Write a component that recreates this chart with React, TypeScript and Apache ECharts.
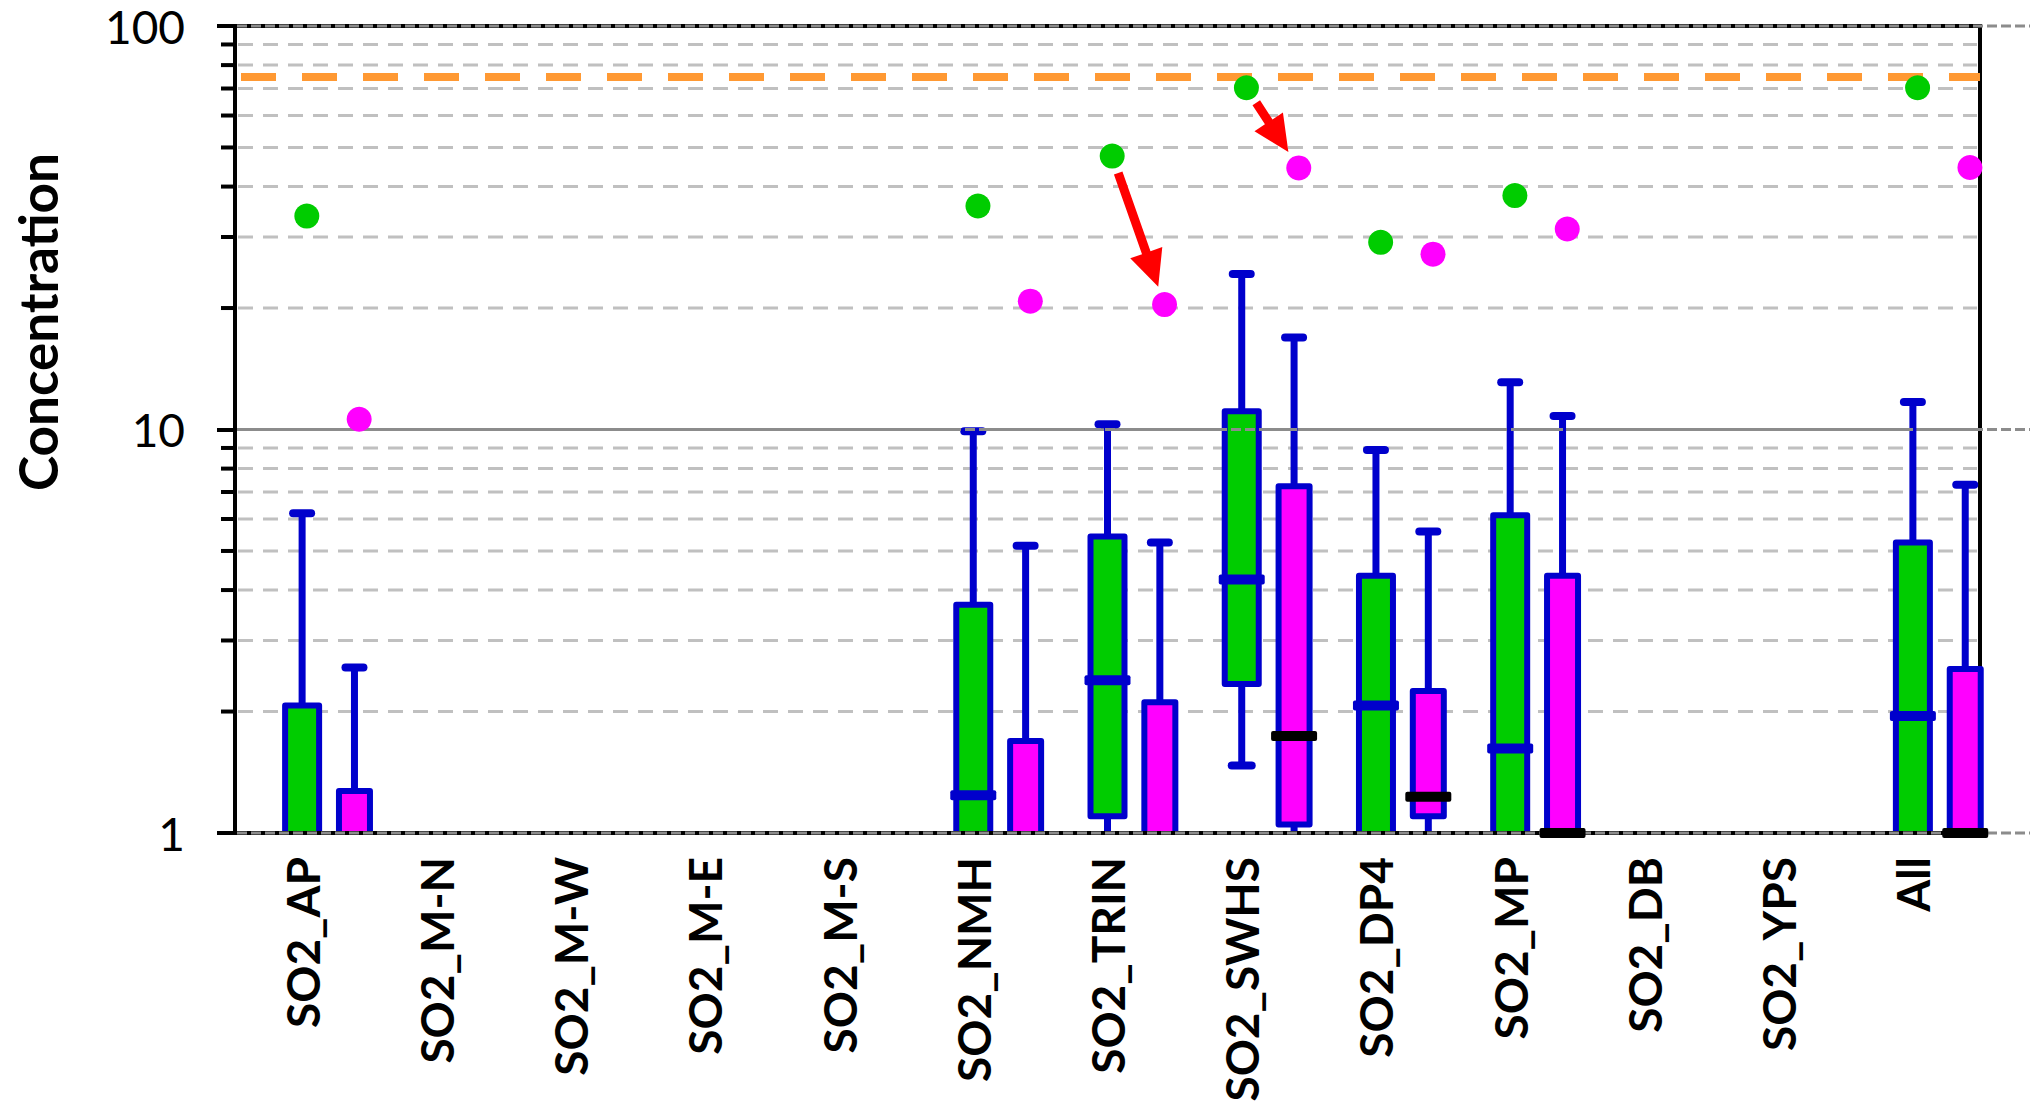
import React, { useEffect, useRef } from 'react';
import * as echarts from 'echarts';

// ---------------- data ----------------
const categories = ['SO2_AP', 'SO2_M-N', 'SO2_M-W', 'SO2_M-E', 'SO2_M-S', 'SO2_NMH', 'SO2_TRIN', 'SO2_SWHS', 'SO2_DP4', 'SO2_MP', 'SO2_DB', 'SO2_YPS', 'All'];

// green boxes
const greenWhiskerLow = [0.8, null, null, null, null, 0.8, 0.8, 1.47, 0.8, 0.8, null, null, 0.8];
const greenQ1 = [0.9, null, null, null, null, 0.9, 1.1, 2.34, 0.9, 0.9, null, null, 0.9];
const greenMedian = [0.9, null, null, null, null, 1.24, 2.39, 4.25, 2.07, 1.62, null, null, 1.95];
const greenQ3 = [2.07, null, null, null, null, 3.68, 5.43, 11.1, 4.34, 6.13, null, null, 5.25];
const greenWhiskerHigh = [6.2, null, null, null, null, 9.9, 10.3, 24.3, 8.9, 13.1, null, null, 11.7];
const greenMax = [33.8, null, null, null, null, 35.8, 47.6, 70.3, 29.1, 38.0, null, null, 70.3];

// magenta boxes
const magentaWhiskerLow = [0.8, null, null, null, null, 0.8, 0.8, 0.8, 0.8, 0.8, null, null, 0.8];
const magentaQ1 = [0.9, null, null, null, null, 0.9, 0.9, 1.05, 1.1, 0.95, null, null, 0.95];
const magentaMedian = [0.9, null, null, null, null, 0.9, 0.9, 1.74, 1.23, 1.0, null, null, 1.0];
const magentaQ3 = [1.27, null, null, null, null, 1.69, 2.11, 7.23, 2.25, 4.34, null, null, 2.55];
const magentaWhiskerHigh = [2.57, null, null, null, null, 5.15, 5.25, 16.9, 5.59, 10.8, null, null, 7.3];
const magentaMax = [10.6, null, null, null, null, 20.8, 20.4, 44.5, 27.2, 31.4, null, null, 44.6];

const yTicksMajor = [1, 10, 100];
const yTicksMinor = [2, 3, 4, 5, 6, 7, 8, 9, 20, 30, 40, 50, 60, 70, 80, 90];
const standardLevel = 75;
const arrowCategories = ['SO2_TRIN', 'SO2_SWHS'];

// ---------------- style ----------------
const Y_MIN = 1;
const Y_MAX = 100;
const BLUE = '#0000CC';
const GREEN = '#00CC00';
const MAGENTA = '#FF00FF';
const MAG_OFFSET = 0.39; // fraction of category band
const DOT_SHIFT = 0.035;
const FONT = 'Lato, "Open Sans", sans-serif';

function bandOf(params: any) {
  return params.coordSys.width / categories.length;
}

function boxData(wl: any[], q1: any[], med: any[], q3: any[], wh: any[]) {
  const out: any[] = [];
  categories.forEach((_, i) => {
    if (q3[i] != null) out.push([i, wl[i], q1[i], med[i], q3[i], wh[i]]);
  });
  return out;
}

function makeBoxRender(offsetFrac: number, fill: string, boxW: number) {
  return (params: any, api: any) => {
    const idx = api.value(0);
    const wl = api.value(1);
    const q1 = api.value(2);
    const q3 = api.value(4);
    const wh = api.value(5);
    const band = bandOf(params);
    const cx = api.coord([idx, Y_MIN])[0] + offsetFrac * band;
    const y = (v: number) => api.coord([idx, Math.max(v, Y_MIN)])[1];
    const half = boxW / 2;
    const yq1 = y(q1);
    const yq3 = y(q3);
    const ywh = y(wh);
    const ywl = y(wl);
    const children: any[] = [];
    children.push({ type: 'line', shape: { x1: cx, y1: yq3, x2: cx, y2: ywh }, style: { stroke: BLUE, lineWidth: 7 } });
    children.push({ type: 'line', shape: { x1: cx - 9, y1: ywh, x2: cx + 9, y2: ywh }, style: { stroke: BLUE, lineWidth: 8, lineCap: 'round' } });
    if (wl < q1 && q1 > Y_MIN) {
      children.push({ type: 'line', shape: { x1: cx, y1: yq1, x2: cx, y2: ywl }, style: { stroke: BLUE, lineWidth: 7 } });
      if (wl >= Y_MIN) {
        children.push({ type: 'line', shape: { x1: cx - 10, y1: ywl, x2: cx + 10, y2: ywl }, style: { stroke: BLUE, lineWidth: 8, lineCap: 'round' } });
      }
    }
    children.push({ type: 'rect', shape: { x: cx - half, y: yq3, width: boxW, height: yq1 - yq3 }, style: { fill } });
    if (q1 < Y_MIN) {
      children.push({
        type: 'polyline',
        shape: { points: [[cx - half, yq1], [cx - half, yq3], [cx + half, yq3], [cx + half, yq1]] },
        style: { stroke: BLUE, lineWidth: 6, fill: 'none', lineJoin: 'round' },
      });
    } else {
      children.push({
        type: 'rect',
        shape: { x: cx - half, y: yq3, width: boxW, height: yq1 - yq3 },
        style: { stroke: BLUE, lineWidth: 6, fill: 'none', lineJoin: 'round' },
      });
    }
    return { type: 'group', children };
  };
}

function makeMedianRender(offsetFrac: number, color: string) {
  return (params: any, api: any) => {
    const idx = api.value(0);
    const m = api.value(3);
    if (!(m >= Y_MIN)) return null;
    const band = bandOf(params);
    const p = api.coord([idx, m]);
    const cx = p[0] + offsetFrac * band;
    return { type: 'rect', shape: { x: cx - 23, y: p[1] - 5, width: 46, height: 10, r: 2 }, style: { fill: color } };
  };
}

function makeDotRender(offsetFrac: number, color: string) {
  return (params: any, api: any) => {
    const idx = api.value(0);
    const v = api.value(1);
    const band = bandOf(params);
    const p = api.coord([idx, v]);
    return { type: 'circle', shape: { cx: p[0] + offsetFrac * band, cy: p[1], r: 12.5 }, style: { fill: color } };
  };
}

const arrowRender = (params: any, api: any) => {
  const idx = api.value(0);
  const from = api.value(1);
  const to = api.value(2);
  const band = bandOf(params);
  const a = api.coord([idx, from]);
  const b = api.coord([idx, to]);
  const p0 = [a[0] + DOT_SHIFT * band, a[1]];
  const p1 = [b[0] + (MAG_OFFSET + DOT_SHIFT) * band, b[1]];
  const dx = p1[0] - p0[0];
  const dy = p1[1] - p0[1];
  const len = Math.hypot(dx, dy);
  const ux = dx / len;
  const uy = dy / len;
  const px = -uy;
  const py = ux;
  const tail = [p0[0] + ux * 18, p0[1] + uy * 18];
  const tip = [p1[0] - ux * 19, p1[1] - uy * 19];
  const hb = [tip[0] - ux * 36, tip[1] - uy * 36];
  const sw = 4.5;
  const hw = 17;
  const pts = [
    [tail[0] + px * sw, tail[1] + py * sw],
    [hb[0] + px * sw, hb[1] + py * sw],
    [hb[0] + px * hw, hb[1] + py * hw],
    tip,
    [hb[0] - px * hw, hb[1] - py * hw],
    [hb[0] - px * sw, hb[1] - py * sw],
    [tail[0] - px * sw, tail[1] - py * sw],
  ];
  return { type: 'polygon', shape: { points: pts }, style: { fill: '#FF0000' } };
};

export default function App() {
  const ref = useRef<HTMLDivElement>(null);
  useEffect(() => {
    if (!ref.current) return;
    const chart = echarts.init(ref.current, undefined, { renderer: 'svg' });

    const greenBoxes = boxData(greenWhiskerLow, greenQ1, greenMedian, greenQ3, greenWhiskerHigh);
    const magentaBoxes = boxData(magentaWhiskerLow, magentaQ1, magentaMedian, magentaQ3, magentaWhiskerHigh);
    const greenDots = categories.map((_, i) => [i, greenMax[i]]).filter((d) => d[1] != null);
    const magentaDots = categories.map((_, i) => [i, magentaMax[i]]).filter((d) => d[1] != null);
    const arrows = arrowCategories.map((c) => {
      const i = categories.indexOf(c);
      return [i, greenMax[i], magentaMax[i]];
    });

    const option: any = {
      animation: false,
      backgroundColor: '#ffffff',
      grid: {
        left: 235,
        right: 50,
        top: 26,
        bottom: 268,
        show: true,
        borderColor: '#000000',
        borderWidth: 4,
        backgroundColor: 'transparent',
        containLabel: false,
        outerBoundsMode: 'none',
      },
      xAxis: {
        type: 'category',
        data: categories,
        z: 4,
        boundaryGap: true,
        axisLine: { show: true, lineStyle: { color: '#000000', width: 4 } },
        axisTick: { show: false },
        splitLine: { show: false },
        axisLabel: {
          interval: 0,
          rotate: 90,
          margin: 24,
          color: '#000000',
          fontFamily: FONT,
          fontWeight: 'bold',
          fontSize: 46,
        },
      },
      yAxis: {
        type: 'log',
        logBase: 10,
        min: Y_MIN,
        max: Y_MAX,
        axisLine: { show: true, lineStyle: { color: '#000000', width: 4 } },
        axisTick: { show: true, inside: false, length: 18, lineStyle: { color: '#000000', width: 4 } },
        axisLabel: {
          margin: 50,
          color: '#000000',
          fontFamily: FONT,
          fontSize: 46,
          formatter: (v: number) => String(v),
        },
        splitLine: {
          show: true,
          showMinLine: false,
          showMaxLine: false,
          lineStyle: { color: '#8C8C8C', width: 3, type: 'solid' },
        },
        minorTick: { show: false },
        minorSplitLine: { show: false },
      },
      graphic: [
        {
          type: 'text',
          x: 37,
          y: 322,
          rotation: Math.PI / 2,
          style: {
            text: 'Concentration',
            font: 'bold 53px Lato, "Open Sans", sans-serif',
            fill: '#000000',
            align: 'center',
            verticalAlign: 'middle',
          },
        },
      ],
      series: [
        {
          name: 'minorGrid',
          type: 'custom',
          z: 1,
          silent: true,
          data: yTicksMinor.map((v) => [0, v]),
          renderItem: (params: any, api: any) => {
            const y = api.coord([0, api.value(1)])[1];
            const cs = params.coordSys;
            return {
              type: 'group',
              children: [
                { type: 'line', shape: { x1: cs.x + 3, y1: y, x2: cs.x + cs.width - 3, y2: y }, style: { stroke: '#C0C0C0', lineWidth: 3, lineDash: [15, 10] } },
                { type: 'line', shape: { x1: cs.x - 14, y1: y, x2: cs.x, y2: y }, style: { stroke: '#000000', lineWidth: 4 } },
              ],
            };
          },
          markLine: {
            silent: true,
            z: 2,
            symbol: ['none', 'none'],
            label: { show: false },
            lineStyle: { color: '#FF9933', width: 8, type: [35, 26], cap: 'butt', dashOffset: -6 },
            data: [{ yAxis: standardLevel }],
          },
        },
        {
          name: 'greenBox',
          type: 'custom',
          z: 3,
          data: greenBoxes,
          encode: { x: 0, y: [1, 2, 3, 4, 5] },
          renderItem: makeBoxRender(0, GREEN, 34),
        },
        {
          name: 'magentaBox',
          type: 'custom',
          z: 3,
          data: magentaBoxes,
          encode: { x: 0, y: [1, 2, 3, 4, 5] },
          renderItem: makeBoxRender(MAG_OFFSET, MAGENTA, 31),
        },
        {
          name: 'majorGrid',
          type: 'custom',
          z: 5,
          silent: true,
          data: yTicksMajor.map((v) => [0, v]),
          renderItem: (params: any, api: any) => {
            const y = api.coord([0, api.value(1)])[1];
            const cs = params.coordSys;
            return {
              type: 'line',
              shape: { x1: cs.x + 2, y1: y, x2: api.getWidth(), y2: y },
              style: { stroke: '#8C8C8C', lineWidth: 3, lineDash: [10, 4] },
            };
          },
        },
        {
          name: 'greenMedian',
          type: 'custom',
          z: 6,
          data: greenBoxes,
          encode: { x: 0, y: [1, 2, 3, 4, 5] },
          renderItem: makeMedianRender(0, BLUE),
        },
        {
          name: 'magentaMedian',
          type: 'custom',
          z: 6,
          data: magentaBoxes,
          encode: { x: 0, y: [1, 2, 3, 4, 5] },
          renderItem: makeMedianRender(MAG_OFFSET, '#000000'),
        },
        {
          name: 'arrows',
          type: 'custom',
          z: 7,
          data: arrows,
          encode: { x: 0, y: [1, 2] },
          renderItem: arrowRender,
        },
        {
          name: 'greenMax',
          type: 'custom',
          z: 8,
          data: greenDots,
          renderItem: makeDotRender(DOT_SHIFT, GREEN),
        },
        {
          name: 'magentaMax',
          type: 'custom',
          z: 8,
          data: magentaDots,
          renderItem: makeDotRender(MAG_OFFSET + DOT_SHIFT, MAGENTA),
        },
      ],
    };
    chart.setOption(option);
    return () => {
      chart.dispose();
    };
  }, []);

  return <div ref={ref} style={{ position: 'absolute', left: 0, top: 0, width: 2030, height: 1101 }} />;
}
